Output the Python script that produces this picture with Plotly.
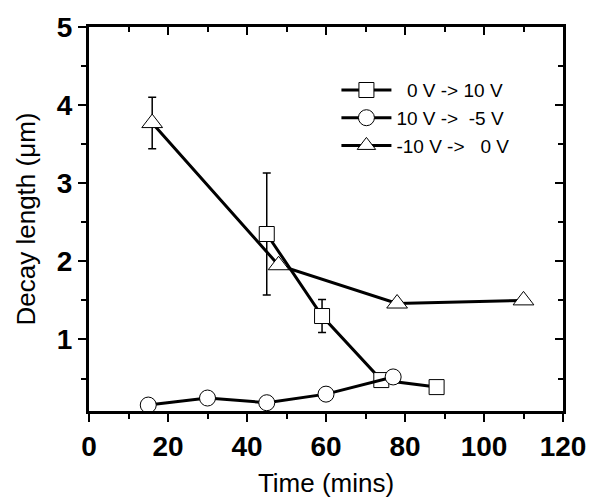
import plotly.graph_objects as go

# 0 V -> 10 V (squares)
sq_time = [45, 59, 74, 88]
sq_decay = [2.35, 1.30, 0.48, 0.39]
sq_err = [0.78, 0.21, 0, 0]

# 10 V -> -5 V (circles)
ci_time = [15, 30, 45, 60, 77]
ci_decay = [0.16, 0.25, 0.19, 0.30, 0.52]

# -10 V -> 0 V (triangles)
tr_time = [16, 48, 78, 110]
tr_decay = [3.77, 1.95, 1.46, 1.50]
tr_err = [0.33, 0, 0, 0]

NB = "\u00a0"
names = [
    f"{NB}{NB}0 V -> 10 V",
    f"10 V -> {NB}-5 V",
    f"-10 V -> {NB}{NB}0 V",
]

FONT = "Liberation Sans, Arial, sans-serif"
LINE = dict(color="black", width=3)

fig = go.Figure()

fig.add_scatter(
    x=sq_time, y=sq_decay, name=names[0], mode="lines+markers",
    line=LINE,
    marker=dict(symbol="square", size=15, color="white", line=dict(color="black", width=1)),
    error_y=dict(type="data", array=sq_err, visible=True, color="black", thickness=1.5, width=4),
)
fig.add_scatter(
    x=ci_time, y=ci_decay, name=names[1], mode="lines+markers",
    line=LINE,
    marker=dict(symbol="circle", size=16, color="white", line=dict(color="black", width=1)),
)
fig.add_scatter(
    x=tr_time, y=tr_decay, name=names[2], mode="lines+markers",
    line=LINE,
    marker=dict(symbol="triangle-up", size=18, color="white", line=dict(color="black", width=1)),
    error_y=dict(type="data", array=tr_err, visible=True, color="black", thickness=1.5, width=4),
)

axis_common = dict(
    showgrid=False, zeroline=False, showline=True, linecolor="black", linewidth=3,
    tickcolor="black", tickwidth=2, ticklen=8, automargin=False,
)
x_ticks = [0, 20, 40, 60, 80, 100, 120]
x_minor = [10, 30, 50, 70, 90, 110]
y_ticks = [1, 2, 3, 4, 5]
y_minor = [0.5, 1.5, 2.5, 3.5, 4.5]
X_RANGE = [0, 120]
Y_RANGE = [0.084, 5]

fig.update_xaxes(
    **axis_common, range=X_RANGE, tickvals=x_ticks, ticks="outside",
    minor=dict(tickvals=x_minor, ticks="outside", ticklen=5, tickcolor="black", tickwidth=2),
    tickfont=dict(family=FONT, size=28, color="black", weight="bold"),
    title=dict(text="Time (mins)", font=dict(family=FONT, size=26, color="black"), standoff=16),
)
fig.update_yaxes(
    **axis_common, range=Y_RANGE, tickvals=y_ticks, ticks="outside",
    minor=dict(tickvals=y_minor, ticks="outside", ticklen=5, tickcolor="black", tickwidth=2),
    tickfont=dict(family=FONT, size=28, color="black", weight="bold"),
    title=dict(text="Decay length (\u03bcm)", font=dict(family=FONT, size=26, color="black"), standoff=14),
)

# mirrored top / right axes with inward ticks
fig.update_layout(
    xaxis2=dict(
        **axis_common, overlaying="x", side="top", matches="x", range=X_RANGE,
        tickvals=x_ticks, ticks="inside", showticklabels=False,
        minor=dict(tickvals=x_minor, ticks="inside", ticklen=5, tickcolor="black", tickwidth=2),
    ),
    yaxis2=dict(
        **axis_common, overlaying="y", side="right", matches="y", range=Y_RANGE,
        tickvals=y_ticks, ticks="inside", showticklabels=False,
        minor=dict(tickvals=y_minor, ticks="inside", ticklen=5, tickcolor="black", tickwidth=2),
    ),
)
# dummy trace so the mirrored axes render
fig.add_scatter(x=[None], y=[None], xaxis="x2", yaxis="y2", showlegend=False, hoverinfo="skip")

fig.update_layout(
    width=590, height=498,
    margin=dict(l=89, r=27, t=27, b=87),
    plot_bgcolor="white", paper_bgcolor="white",
    showlegend=True,
    legend=dict(
        x=0.522, y=0.885, xanchor="left", yanchor="top",
        bgcolor="rgba(0,0,0,0)", font=dict(family=FONT, size=19, color="black"),
        itemwidth=50, tracegroupgap=0,
    ),
)

# drop the default page margin so the 590x498 figure fills the window exactly
fig.write_html(
    "out.html",
    config={"displayModeBar": False},
    post_script="document.body.style.margin = '0px';",
)
